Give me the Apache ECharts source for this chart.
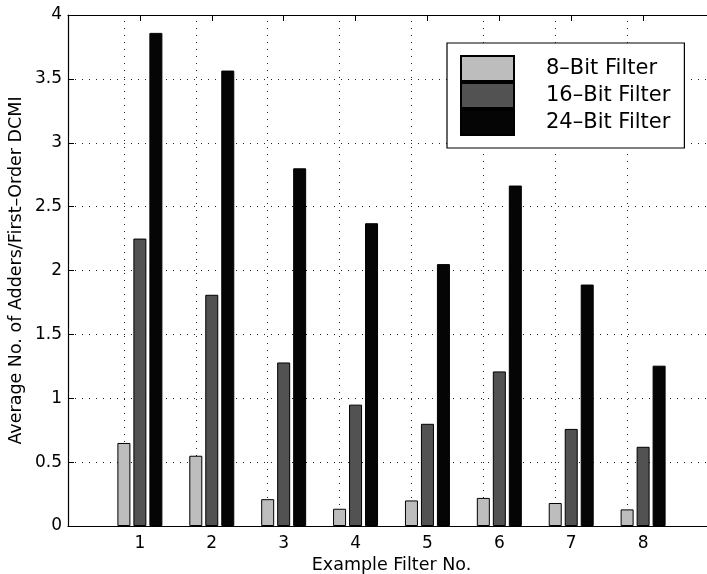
<!DOCTYPE html>
<html>
<head>
<meta charset="utf-8">
<script src="https://cdn.jsdelivr.net/npm/echarts@6/dist/echarts.min.js"></script>
<style>html,body{margin:0;padding:0;background:#fff}#c{width:707px;height:574px}</style>
</head>
<body>
<div id="c"></div>
<script>
const categories = [1, 2, 3, 4, 5, 6, 7, 8];
const seriesNames = ['8\u2013Bit Filter', '16\u2013Bit Filter', '24\u2013Bit Filter'];
const bit8 = [0.65, 0.55, 0.21, 0.135, 0.20, 0.22, 0.18, 0.13];
const bit16 = [2.25, 1.81, 1.28, 0.95, 0.80, 1.21, 0.76, 0.62];
const bit24 = [3.86, 3.565, 2.80, 2.37, 2.05, 2.665, 1.89, 1.255];
const yTicks = [0, 0.5, 1, 1.5, 2, 2.5, 3, 3.5, 4];

const FONT = 'DejaVu Sans';
const colors = ['#bdbdbd', '#525252', '#050505'];
const values = [bit8, bit16, bit24];

const chart = echarts.init(document.getElementById('c'));
const dotted = { type: [1, 6], color: '#222', width: 1 };
chart.setOption({
  animation: false,
  backgroundColor: '#fff',
  textStyle: { fontFamily: FONT },
  grid: { left: 68, top: 15, width: 647, height: 511, containLabel: false, outerBoundsMode: 'none' },
  legend: {
    orient: 'vertical', left: 447, top: 43,
    padding: [12, 14, 12, 13],
    itemWidth: 53, itemHeight: 25, itemGap: 0,
    icon: 'rect',
    borderColor: '#000', borderWidth: 1.2, backgroundColor: '#fff',
    textStyle: { fontFamily: FONT, fontSize: 21, color: '#000', padding: [0, 0, 0, 27] },
    data: seriesNames
  },
  xAxis: [{
    type: 'value', min: 0, max: 9, interval: 1,
    name: 'Example Filter No.', nameLocation: 'middle', nameGap: 30, nameMoveOverlap: false,
    nameTextStyle: { fontFamily: FONT, fontSize: 17.5, color: '#000' },
    axisLine: { show: true, onZero: false, lineStyle: { color: '#000', width: 1.2 } },
    axisTick: { show: true, inside: true, length: 6, lineStyle: { color: '#000' } },
    axisLabel: {
      fontFamily: FONT, fontSize: 17, color: '#000', margin: 9,
      formatter: v => (categories.indexOf(v) >= 0 ? String(v) : '')
    },
    splitLine: { show: false }
  }, {
    type: 'value', min: 0, max: 9, interval: 1, position: 'top',
    axisLine: { show: true, onZero: false, lineStyle: { color: '#000', width: 1.2 } },
    axisTick: { show: true, inside: true, length: 6, lineStyle: { color: '#000' } },
    axisLabel: { show: false }, splitLine: { show: false }
  }],
  yAxis: {
    type: 'value', min: 0, max: 4, interval: 0.5,
    name: 'Average No. of Adders/First\u2013Order DCMI', nameLocation: 'middle', nameGap: 43, nameMoveOverlap: false,
    nameTextStyle: { fontFamily: FONT, fontSize: 17.5, color: '#000' },
    axisLine: { show: true, onZero: false, lineStyle: { color: '#000', width: 1.2 } },
    axisTick: { show: true, inside: true, length: 6, lineStyle: { color: '#000' } },
    axisLabel: {
      fontFamily: FONT, fontSize: 17, color: '#000', margin: 6,
      formatter: v => (yTicks.indexOf(v) >= 0 ? String(v) : '')
    },
    splitLine: { show: true, lineStyle: dotted }
  },
  series: seriesNames.map((name, i) => ({
    name: name, type: 'bar', xAxisIndex: 0, z: 2,
    barWidth: 13, barGap: '23%',
    itemStyle: { color: colors[i], borderColor: '#000', borderWidth: 1 },
    data: categories.map((c, j) => [c, values[i][j]]),
    markLine: i === 0 ? {
      silent: true, symbol: 'none', z: 0,
      label: { show: false },
      lineStyle: dotted,
      emphasis: { disabled: true },
      data: categories.map(c => ({ xAxis: c }))
    } : undefined
  }))
});
</script>
</body>
</html>
